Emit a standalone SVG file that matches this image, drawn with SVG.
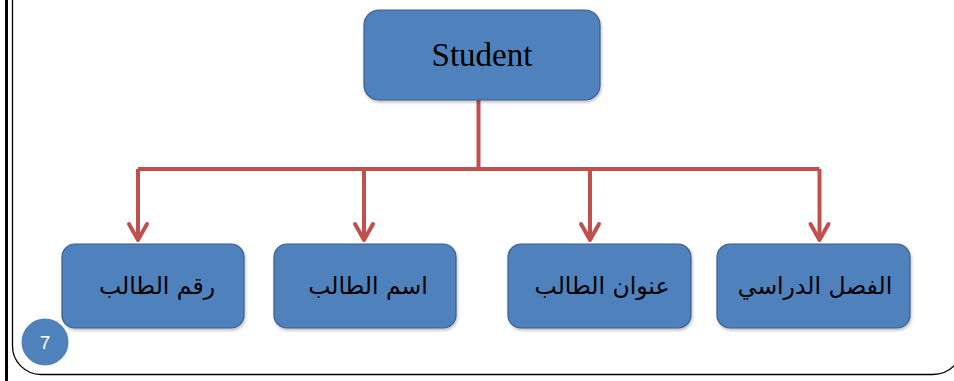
<svg xmlns="http://www.w3.org/2000/svg" width="954" height="381" viewBox="0 0 954 381">
<style>
.box{fill:#4F81BD;stroke:#3A5F8C;stroke-width:1.2;filter:url(#sh)}
.ar{font-family:"DejaVu Sans","Noto Sans",sans-serif;font-size:23.5px;fill:#000;text-anchor:middle;direction:rtl}
.conn{fill:none;stroke:#C0504D;stroke-width:4;stroke-linejoin:round}
.frame{fill:none;stroke:#000;stroke-width:1.3}
</style>
<defs>
<filter id="sh" x="-10%" y="-10%" width="130%" height="140%">
<feDropShadow dx="1" dy="2" stdDeviation="1.5" flood-color="#000" flood-opacity="0.25"/>
</filter>
<marker id="arr" markerUnits="userSpaceOnUse" viewBox="-22 -14 26 28" markerWidth="26" markerHeight="28" refX="0" refY="0" orient="auto" overflow="visible">
<path d="M -16 -9 L 0 0 L -16 9" fill="none" stroke="#C0504D" stroke-width="4" stroke-linejoin="round" stroke-linecap="round"/>
</marker>
</defs>
<rect width="954" height="381" fill="#fff"/>
<g id="frame">
<rect x="5" y="0" width="3" height="381" fill="#000"/>
<path class="frame" d="M 12.5 0 L 12.5 346 A 28.5 28.5 0 0 0 41 374.5 L 933 374.5 A 30 30 0 0 0 963 344.5"/>
</g>
<g id="connectors">
<path class="conn" d="M 478.5 100 L 478.5 169"/>
<path class="conn" d="M 138 169 L 819.5 169"/>
<path class="conn" d="M 138 169 L 138 240" marker-end="url(#arr)"/>
<path class="conn" d="M 364 169 L 364 240" marker-end="url(#arr)"/>
<path class="conn" d="M 590 169 L 590 240" marker-end="url(#arr)"/>
<path class="conn" d="M 819.5 169 L 819.5 240" marker-end="url(#arr)"/>
</g>
<g id="student">
<rect class="box" x="364" y="10" width="236" height="90" rx="15"/>
<text x="482" y="66" font-family="Liberation Serif, serif" font-size="33" text-anchor="middle" fill="#000">Student</text>
</g>
<g id="n1">
<rect class="box" x="62" y="244" width="182" height="84" rx="13"/>
<text class="ar" x="157" y="294">رقم الطالب</text>
</g>
<g id="n2">
<rect class="box" x="274" y="244" width="182" height="84" rx="13"/>
<text class="ar" x="368" y="294">اسم الطالب</text>
</g>
<g id="n3">
<rect class="box" x="508" y="244" width="183" height="84" rx="13"/>
<text class="ar" x="602" y="294">عنوان الطالب</text>
</g>
<g id="n4">
<rect class="box" x="717" y="244" width="193" height="84" rx="13"/>
<text class="ar" x="815" y="294">الفصل الدراسي</text>
</g>
<g id="page">
<circle cx="45" cy="342" r="24.5" fill="#4F81BD" stroke="#fff" stroke-width="2"/>
<text x="45" y="349" font-family="Liberation Sans, sans-serif" font-size="19" fill="#fff" text-anchor="middle">7</text>
</g>
</svg>
